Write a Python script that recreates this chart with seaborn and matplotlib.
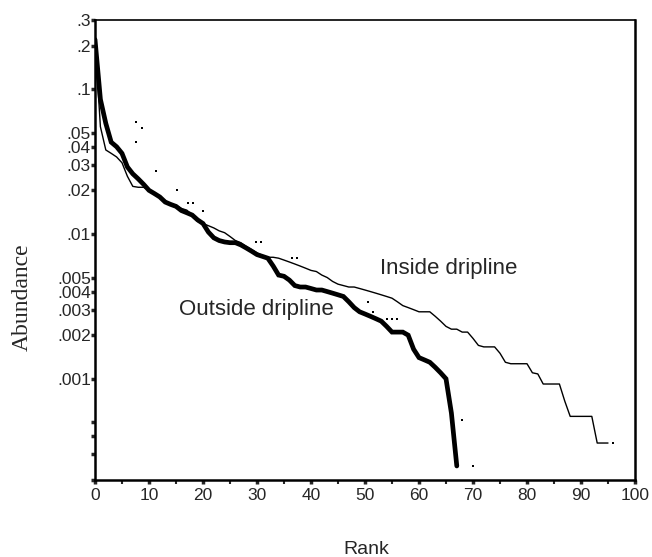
import numpy as np
import pandas as pd
import matplotlib
matplotlib.use("Agg")
import matplotlib.pyplot as plt
import matplotlib.ticker as mticker
import seaborn as sns

# ---- data ----
outside_rank = list(range(0, 68))
outside_abund = [0.22, 0.085, 0.058, 0.043, 0.040, 0.036, 0.029, 0.026, 0.024, 0.022,
                 0.020, 0.019, 0.018, 0.0166, 0.016, 0.0155, 0.0145, 0.014, 0.0135, 0.0125,
                 0.0118, 0.0103, 0.0094, 0.0090, 0.0088, 0.0087, 0.0087, 0.0084, 0.0080, 0.0076,
                 0.0072, 0.0070, 0.0068, 0.0060, 0.0052, 0.0051, 0.0048, 0.0044, 0.0043, 0.0043,
                 0.0042, 0.0041, 0.0041, 0.0040, 0.0039, 0.0038, 0.0037, 0.0034, 0.0031, 0.0029,
                 0.0028, 0.0027, 0.0026, 0.0025, 0.0023, 0.0021, 0.0021, 0.0021, 0.0020, 0.0016,
                 0.0014, 0.00135, 0.0013, 0.0012, 0.0011, 0.0010, 0.00058, 0.00025]

inside_rank = list(range(0, 96))
inside_abund = [0.22, 0.055, 0.038, 0.036, 0.034, 0.031, 0.025, 0.0213, 0.021, 0.021,
                0.020, 0.019, 0.018, 0.017, 0.016, 0.0158, 0.015, 0.0146, 0.0135, 0.0122,
                0.0118, 0.0114, 0.0110, 0.0105, 0.0102, 0.0096, 0.0090, 0.0087, 0.0082, 0.0078,
                0.0074, 0.0071, 0.0069, 0.0069, 0.0068, 0.0066, 0.0064, 0.0062, 0.0060, 0.0058,
                0.0056, 0.0055, 0.0052, 0.0050, 0.0047, 0.0045, 0.0044, 0.0043, 0.0043, 0.0042,
                0.0041, 0.0040, 0.0039, 0.0038, 0.0037, 0.0036, 0.0034, 0.0032, 0.0031, 0.0030,
                0.0029, 0.0029, 0.0029, 0.0027, 0.0025, 0.0023, 0.0022, 0.0022, 0.0021, 0.0021,
                0.0019, 0.0017, 0.00166, 0.00166, 0.00166, 0.0015, 0.0013, 0.00127, 0.00127, 0.00127,
                0.00127, 0.0011, 0.00108, 0.00092, 0.00092, 0.00092, 0.00092, 0.0007, 0.00055, 0.00055,
                0.00055, 0.00055, 0.00055, 0.00036, 0.00036, 0.00036]

dot_rank = [7.6, 8.7, 7.6, 11.3, 15.2, 17.2, 18.1, 20.0, 29.8, 30.7, 36.5, 37.4,
            50.6, 51.5, 54.1, 55.0, 55.9, 68.0, 70.0, 95.9]
dot_abund = [0.059, 0.054, 0.043, 0.027, 0.020, 0.0163, 0.0163, 0.0144, 0.0088, 0.0088,
             0.0068, 0.0068, 0.0034, 0.0029, 0.0026, 0.0026, 0.0026, 0.00052, 0.00025, 0.00036]

ytick_vals = [0.3, 0.2, 0.1, 0.05, 0.04, 0.03, 0.02, 0.01, 0.005, 0.004, 0.003, 0.002, 0.001,
              0.0005, 0.0004, 0.0003, 0.0002]
ytick_labels = [".3", ".2", ".1", ".05", ".04", ".03", ".02", ".01", ".005", ".004", ".003",
                ".002", ".001", "", "", "", ""]
xtick_major = [0, 10, 20, 30, 40, 50, 60, 70, 80, 90, 100]
xtick_minor = [5, 15, 25, 35, 45, 55, 65, 75, 85, 95]

# ---- plotting ----
sns.set_style("ticks")
plt.rcParams["font.family"] = ["Liberation Sans", "DejaVu Sans"]

fig = plt.figure(figsize=(6.52, 5.57), dpi=100)
ax = fig.add_axes([95 / 652, 1 - 480 / 557, 540 / 652, 460 / 557])

df_out = pd.DataFrame({"Rank": outside_rank, "Abundance": outside_abund})
df_in = pd.DataFrame({"Rank": inside_rank, "Abundance": inside_abund})
df_dot = pd.DataFrame({"Rank": dot_rank, "Abundance": dot_abund})

sns.lineplot(data=df_in, x="Rank", y="Abundance", color="black", linewidth=1.0,
             estimator=None, sort=False, ax=ax)
sns.lineplot(data=df_out, x="Rank", y="Abundance", color="black", linewidth=3.4,
             estimator=None, sort=False, ax=ax, solid_joinstyle="miter")
sns.scatterplot(data=df_dot, x="Rank", y="Abundance", color="black", marker="s",
                s=3, linewidth=0, ax=ax)

ax.set_yscale("log")
ax.set_xlim(0, 100)
ax.set_ylim(0.0002, 0.3)

ax.yaxis.set_major_locator(mticker.FixedLocator(ytick_vals))
ax.yaxis.set_major_formatter(mticker.FixedFormatter(ytick_labels))
ax.yaxis.set_minor_locator(mticker.NullLocator())
ax.xaxis.set_major_locator(mticker.FixedLocator(xtick_major))
ax.xaxis.set_minor_locator(mticker.FixedLocator(xtick_minor))

ax.tick_params(axis="y", which="major", direction="out", length=3, width=2.5,
               labelsize=12.5, pad=0)
ax.tick_params(axis="x", which="major", direction="out", length=3, width=2.5,
               labelsize=12.5, pad=3)
ax.tick_params(axis="x", which="minor", direction="out", length=3, width=1.5)

for side in ["left", "bottom", "top", "right"]:
    ax.spines[side].set_visible(True)
    ax.spines[side].set_color("black")
ax.spines["left"].set_linewidth(1.8)
ax.spines["bottom"].set_linewidth(1.8)
ax.spines["right"].set_linewidth(1.8)
ax.spines["top"].set_linewidth(1.2)

ax.set_xlabel("")
ax.set_ylabel("")
fig.text(366 / 652, 1 - 549 / 557, "Rank", ha="center", va="center", fontsize=14)
fig.text(22 / 652, 1 - 297 / 557, "Abundance", ha="center", va="center", rotation=90,
         fontsize=17, family=["Liberation Serif", "DejaVu Serif"])

ax.text(52.8, 0.0058, "Inside dripline", fontsize=16, ha="left", va="center")
ax.text(15.5, 0.0030, "Outside dripline", fontsize=16, ha="left", va="center")

fig.savefig("out.png", dpi=100, facecolor="white")
